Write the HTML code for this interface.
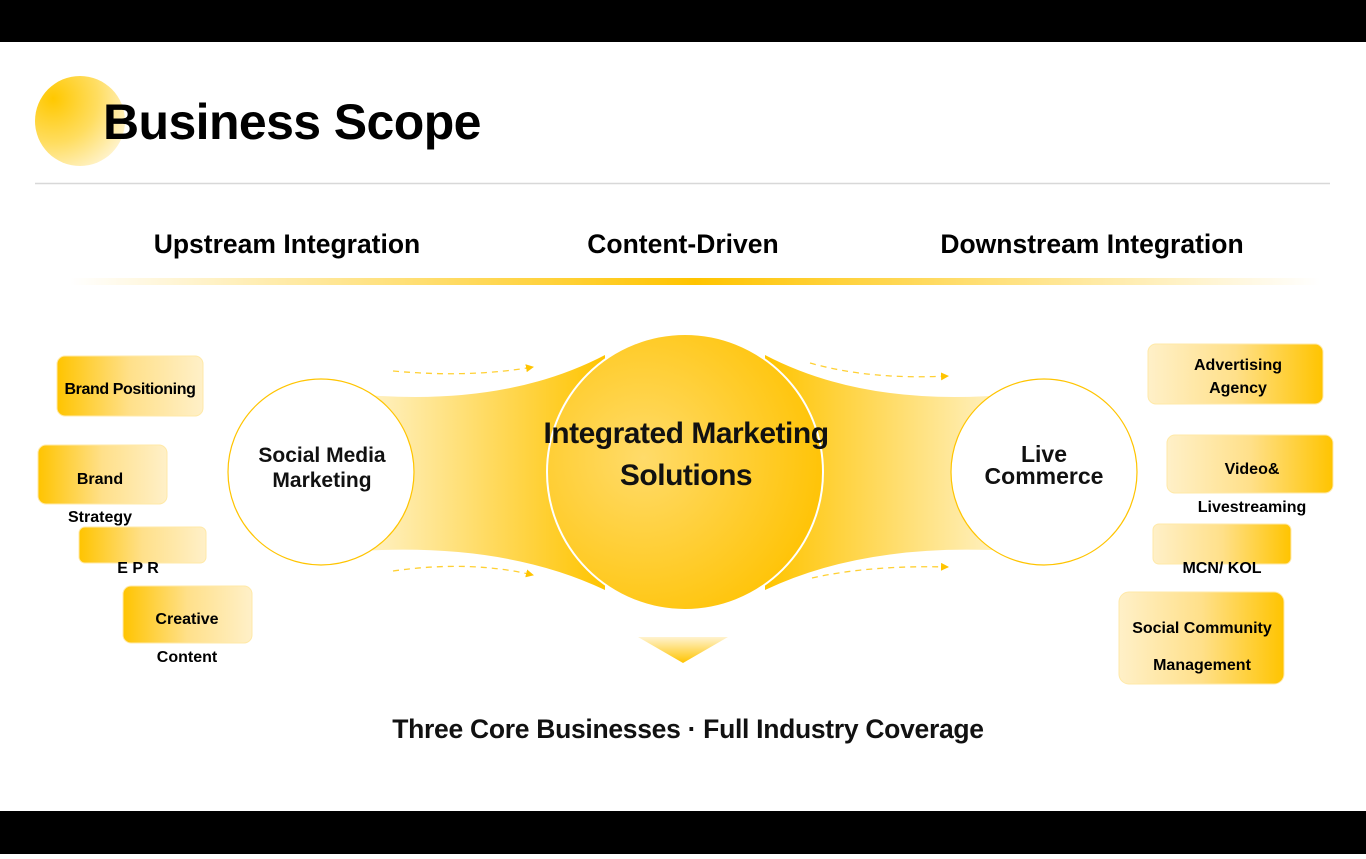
<!DOCTYPE html>
<html><head><meta charset="utf-8"><style>
body{margin:0;width:1366px;height:854px;overflow:hidden;background:#fff;font-family:"Liberation Sans",Arial,sans-serif;}
</style></head><body>
<svg width="1366" height="854" viewBox="0 0 1366 854" xmlns="http://www.w3.org/2000/svg" font-family="Liberation Sans, Arial, sans-serif" font-weight="bold">
<defs>
<radialGradient id="tc" cx="0.2" cy="0.25" r="0.9">
<stop offset="0" stop-color="#ffc800"/><stop offset="0.55" stop-color="#ffdd60"/><stop offset="1" stop-color="#fff3cc"/></radialGradient>
<linearGradient id="bar" x1="0" x2="1"><stop offset="0" stop-color="#ffc400" stop-opacity="0"/><stop offset="0.5" stop-color="#ffc400"/><stop offset="1" stop-color="#ffc400" stop-opacity="0"/></linearGradient>
<linearGradient id="fl" x1="0" x2="1"><stop offset="0" stop-color="#fff6d8"/><stop offset="1" stop-color="#ffc400"/></linearGradient>
<linearGradient id="fr" x1="1" x2="0"><stop offset="0" stop-color="#fff6d8"/><stop offset="1" stop-color="#ffc400"/></linearGradient>
<radialGradient id="cc" cx="0.35" cy="0.45" r="0.7"><stop offset="0" stop-color="#ffdb6a"/><stop offset="1" stop-color="#ffc200"/></radialGradient>
<linearGradient id="bl" x1="0" x2="1"><stop offset="0" stop-color="#ffc400"/><stop offset="0.5" stop-color="#ffe08a"/><stop offset="1" stop-color="#fff0c8"/></linearGradient>
<linearGradient id="br" x1="1" x2="0"><stop offset="0" stop-color="#ffc400"/><stop offset="0.5" stop-color="#ffe08a"/><stop offset="1" stop-color="#fff0c8"/></linearGradient>
<linearGradient id="tri" x1="0" y1="0" x2="0" y2="1"><stop offset="0" stop-color="#fff3d0"/><stop offset="1" stop-color="#ffc400"/></linearGradient>
<marker id="ar" markerWidth="8" markerHeight="8" refX="7" refY="4" orient="auto" markerUnits="userSpaceOnUse"><path d="M0,0 L8,4 L0,8 z" fill="#ffc400"/></marker>
</defs>
<rect x="0" y="0" width="1366" height="42" fill="#000"/>
<rect x="0" y="811" width="1366" height="43" fill="#000"/>
<circle cx="80" cy="121" r="45" fill="url(#tc)"/>
<text x="103" y="139" font-size="50" fill="#000" letter-spacing="-0.6">Business Scope</text>
<line x1="35" y1="183.5" x2="1330" y2="183.5" stroke="#d8d8d8" stroke-width="1.5"/>
<text x="287" y="253" font-size="26.5" text-anchor="middle">Upstream Integration</text>
<text x="683" y="253" font-size="26.5" text-anchor="middle">Content-Driven</text>
<text x="1092" y="253" font-size="26.5" text-anchor="middle">Downstream Integration</text>
<rect x="70" y="278" width="1250" height="7" fill="url(#bar)"/>
<path d="M345,393 Q500,410 605,355 L605,590 Q500,540 345,552 Z" fill="url(#fl)"/>
<path d="M1025,393 Q870,410 765,355 L765,590 Q870,540 1025,552 Z" fill="url(#fr)"/>
<circle cx="685" cy="472" r="138" fill="url(#cc)" stroke="#fff" stroke-width="2"/>
<circle cx="321" cy="472" r="93" fill="#fff" stroke="#ffc400" stroke-width="1.2"/>
<circle cx="1044" cy="472" r="93" fill="#fff" stroke="#ffc400" stroke-width="1.2"/>
<g fill="none" stroke="#ffc400" stroke-width="1.3" stroke-dasharray="6,5" stroke-opacity="0.8">
<path d="M393,371 Q470,378 533,367" marker-end="url(#ar)"/>
<path d="M393,571 Q470,560 533,575" marker-end="url(#ar)"/>
<path d="M810,363 Q870,380 948,376" marker-end="url(#ar)"/>
<path d="M812,578 Q870,565 948,567" marker-end="url(#ar)"/>
</g>
<path d="M638,637 L728,637 L683,663 Z" fill="url(#tri)"/>
<text font-size="30" text-anchor="middle" fill="#111" letter-spacing="-0.5"><tspan x="686" y="443">Integrated Marketing</tspan><tspan x="686" y="485">Solutions</tspan></text>
<text font-size="21" text-anchor="middle" fill="#111"><tspan x="322" y="462">Social Media</tspan><tspan x="322" y="487">Marketing</tspan></text>
<text font-size="23" text-anchor="middle" fill="#111"><tspan x="1044" y="462">Live</tspan><tspan x="1044" y="484">Commerce</tspan></text>
<rect x="57" y="356" width="146" height="60" rx="8" fill="url(#bl)" stroke="#ffe9a8"/>
<text x="130" y="394" font-size="16" text-anchor="middle" letter-spacing="-0.4">Brand Positioning</text>
<rect x="38" y="445" width="129" height="59" rx="8" fill="url(#bl)" stroke="#ffe9a8"/>
<text x="100" y="484" font-size="16" text-anchor="middle">Brand</text>
<text x="100" y="522" font-size="16" text-anchor="middle">Strategy</text>
<rect x="79" y="527" width="127" height="36" rx="6" fill="url(#bl)" stroke="#ffe9a8"/>
<text x="138" y="573" font-size="16" text-anchor="middle">E P R</text>
<rect x="123" y="586" width="129" height="57" rx="8" fill="url(#bl)" stroke="#ffe9a8"/>
<text x="187" y="624" font-size="16" text-anchor="middle">Creative</text>
<text x="187" y="662" font-size="16" text-anchor="middle">Content</text>
<rect x="1148" y="344" width="175" height="60" rx="8" fill="url(#br)" stroke="#ffe9a8"/>
<text x="1238" y="370" font-size="16" text-anchor="middle">Advertising</text>
<text x="1238" y="393" font-size="16" text-anchor="middle">Agency</text>
<rect x="1167" y="435" width="166" height="58" rx="8" fill="url(#br)" stroke="#ffe9a8"/>
<text x="1252" y="474" font-size="16" text-anchor="middle">Video&amp;</text>
<text x="1252" y="512" font-size="16" text-anchor="middle">Livestreaming</text>
<rect x="1153" y="524" width="138" height="40" rx="6" fill="url(#br)" stroke="#ffe9a8"/>
<text x="1222" y="573" font-size="16" text-anchor="middle">MCN/ KOL</text>
<rect x="1119" y="592" width="165" height="92" rx="10" fill="url(#br)" stroke="#ffe9a8"/>
<text x="1202" y="633" font-size="16" text-anchor="middle">Social Community</text>
<text x="1202" y="670" font-size="16" text-anchor="middle">Management</text>
<text x="688" y="738" font-size="26.5" text-anchor="middle" fill="#111" letter-spacing="-0.3">Three Core Businesses · Full Industry Coverage</text>
</svg>
</body></html>
